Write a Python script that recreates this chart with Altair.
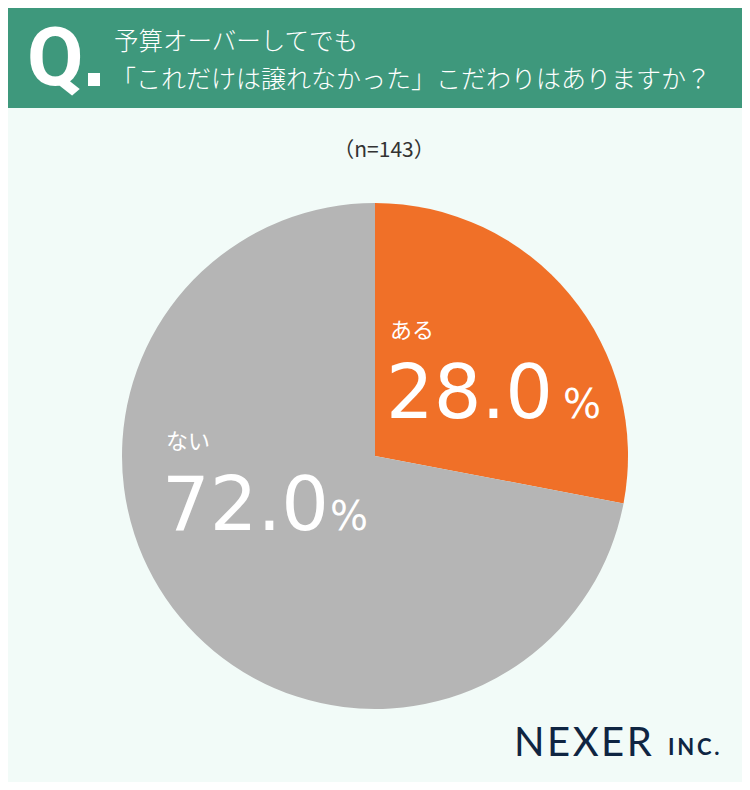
import altair as alt
import pandas as pd

# ---- data ----
categories = ["ある", "ない"]
values = [28.0, 72.0]
colors = ["#f07028", "#b5b5b5"]
order = [1, 2]

title_line1 = "予算オーバーしてでも"
title_line2 = "「これだけは譲れなかった」こだわりはありますか？"
sample_note = "（n=143）"

OFF = 8  # page margin
W, H = 750 - 2 * OFF, 790 - 2 * OFF

df = pd.DataFrame({"category": categories, "value": values, "order": order})
one = alt.Data(values=[{}])

JP = "Noto Sans CJK JP"
NUM = "DejaVu Sans"

header = alt.Chart(one).mark_rect(color="#3e987c").encode(
    x=alt.value(0), x2=alt.value(W), y=alt.value(0), y2=alt.value(108 - OFF)
)

q = alt.Chart(one).mark_text(
    text="Q", font="Roboto", fontSize=82, fontWeight="bold", color="white",
    align="left", baseline="alphabetic"
).encode(x=alt.value(27 - OFF), y=alt.value(85 - OFF))

qdot = alt.Chart(one).mark_rect(color="white").encode(
    x=alt.value(88 - OFF), x2=alt.value(100 - OFF), y=alt.value(73 - OFF), y2=alt.value(86 - OFF)
)

t1 = alt.Chart(one).mark_text(
    text=title_line1, font=JP, fontSize=24.5, fontWeight=300, color="white", align="left",
    baseline="middle"
).encode(x=alt.value(114 - OFF), y=alt.value(43 - OFF))

t2 = alt.Chart(one).mark_text(
    text=title_line2, font=JP, fontSize=25, fontWeight=300, color="white", align="left",
    baseline="middle"
).encode(x=alt.value(111 - OFF), y=alt.value(80 - OFF))

note = alt.Chart(one).mark_text(
    text=sample_note, font=JP, fontSize=21, color="#333333", align="center",
    baseline="middle"
).encode(x=alt.value(384 - OFF), y=alt.value(151 - OFF))

pie = alt.Chart(df).mark_arc(radius=253).encode(
    theta=alt.Theta("value:Q", stack=True),
    order=alt.Order("order:Q"),
    color=alt.Color("category:N", scale=alt.Scale(domain=categories, range=colors), legend=None),
    x=alt.value(375 - OFF),
    y=alt.value(456 - OFF),
)

lab_x = [390 - OFF, 166 - OFF]
num_x = [386 - OFF, 162 - OFF]
lab_y = [331 - OFF, 442 - OFF]
num_y = [418 - OFF, 530 - OFF]
pct_x = [563 - OFF, 330 - OFF]

def label_layers(i):
    d = pd.DataFrame({"category": [categories[i]], "num": [f"{values[i]:.1f}"], "pct": ["%"]})
    name = alt.Chart(d).mark_text(
        font=JP, fontSize=22, color="white", align="left", baseline="middle"
    ).encode(text="category:N", x=alt.value(lab_x[i]), y=alt.value(lab_y[i]))
    num = alt.Chart(d).mark_text(
        font=NUM, fontSize=75, color="white", align="left", baseline="alphabetic"
    ).encode(text="num:N", x=alt.value(num_x[i]), y=alt.value(num_y[i]))
    pct = alt.Chart(d).mark_text(
        font=NUM, fontSize=40, color="white", align="left", baseline="alphabetic"
    ).encode(text="pct:N", x=alt.value(pct_x[i]), y=alt.value(num_y[i]))
    return [name, num, pct]

nexer = alt.Chart(one).mark_text(
    text="N\u200aE\u200aX\u200aE\u200aR", font="Lato", fontSize=40, color="#0f2542", align="left",
    baseline="alphabetic"
).encode(x=alt.value(514 - OFF), y=alt.value(756 - OFF))

inc = alt.Chart(one).mark_text(
    text="I\u2009N\u2009C\u2009.", font="Lato", fontSize=22, fontWeight="bold", color="#0f2542",
    align="left", baseline="alphabetic"
).encode(x=alt.value(668 - OFF), y=alt.value(755 - OFF))

chart = alt.layer(
    header, q, qdot, t1, t2, note, pie,
    *label_layers(0), *label_layers(1),
    nexer, inc
).properties(
    width=W, height=H, padding=0, autosize=alt.AutoSizeParams(type="none"),
    background="#f2fbf8"
).configure_view(stroke=None, fill="#f2fbf8")

chart.save("out.html", embed_options={"renderer": "svg", "actions": False})
